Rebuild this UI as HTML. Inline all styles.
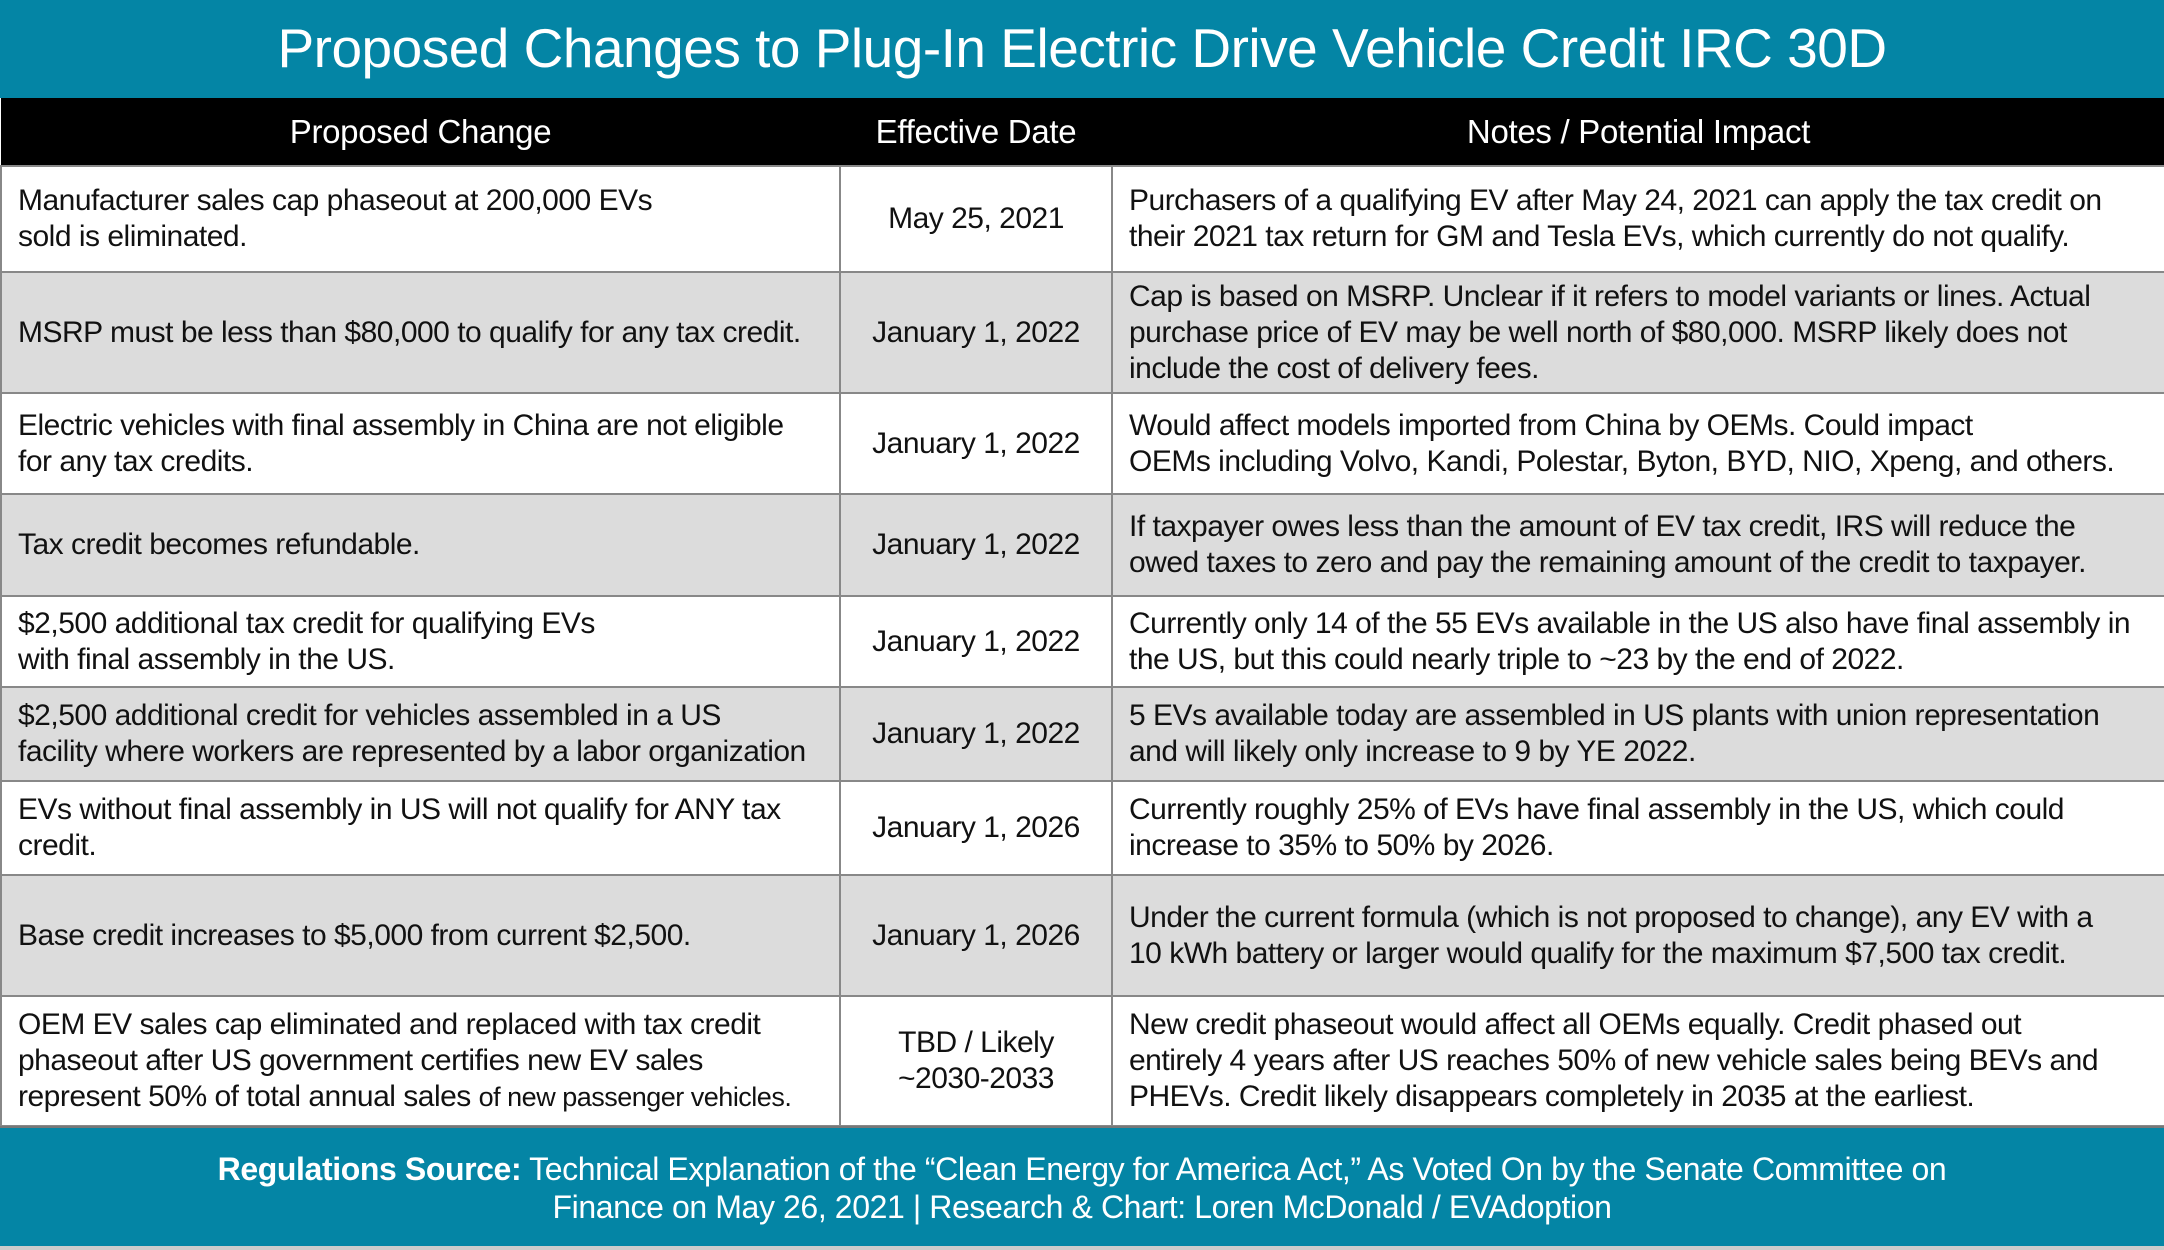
<!DOCTYPE html>
<html><head><meta charset="utf-8"><style>
*{margin:0;padding:0;box-sizing:border-box}
body{width:2164px;height:1250px;background:#fff;font-family:"Liberation Sans",sans-serif;overflow:hidden;position:relative}
.title{position:absolute;left:0;top:0;width:2164px;height:98px;background:#0485a5;color:#fff;font-size:55px;text-align:center;line-height:96px;letter-spacing:-0.5px}
table{position:absolute;left:0;top:98px;width:2164px;border-collapse:collapse;table-layout:fixed}
th{background:#000;color:#fff;font-weight:normal;font-size:33px;height:68px;letter-spacing:-0.3px}
td{font-size:30px;letter-spacing:-0.5px;line-height:36px;color:#111;border:2px solid #888;padding:0 16px;vertical-align:middle;white-space:nowrap;overflow:hidden}
td.c{text-align:center}
tr.g td{background:#dcdcdc}
.foot{position:absolute;left:0;top:1126px;width:2164px;height:120px;background:#0485a5;color:#fff;font-size:32px;text-align:center;line-height:38px;padding-top:22px;letter-spacing:-0.4px;border-top:2px solid #777}
.bot{position:absolute;left:0;top:1246px;width:2164px;height:4px;background:#ccc}
</style></head><body>
<div class="title">Proposed Changes to Plug-In Electric Drive Vehicle Credit IRC 30D</div>
<table>
<colgroup><col style="width:839px"><col style="width:272px"><col style="width:1053px"></colgroup>
<tr><th>Proposed Change</th><th>Effective Date</th><th>Notes / Potential Impact</th></tr>
<tr style="height:106px"><td>Manufacturer sales cap phaseout at 200,000 EVs<br>sold is eliminated.</td><td class="c">May 25, 2021</td><td>Purchasers of a qualifying EV after May 24, 2021 can apply the tax credit on<br>their 2021 tax return for GM and Tesla EVs, which currently do not qualify.</td></tr>
<tr class="g" style="height:121px"><td>MSRP must be less than $80,000 to qualify for any tax credit.</td><td class="c">January 1, 2022</td><td>Cap is based on MSRP. Unclear if it refers to model variants or lines. Actual<br>purchase price of EV may be well north of $80,000. MSRP likely does not<br>include the cost of delivery fees.</td></tr>
<tr style="height:101px"><td>Electric vehicles with final assembly in China are not eligible<br>for any tax credits.</td><td class="c">January 1, 2022</td><td>Would affect models imported from China by OEMs. Could impact<br>OEMs including Volvo, Kandi, Polestar, Byton, BYD, NIO, Xpeng, and others.</td></tr>
<tr class="g" style="height:102px"><td>Tax credit becomes refundable.</td><td class="c">January 1, 2022</td><td>If taxpayer owes less than the amount of EV tax credit, IRS will reduce the<br>owed taxes to zero and pay the remaining amount of the credit to taxpayer.</td></tr>
<tr style="height:91px"><td>$2,500 additional tax credit for qualifying EVs<br>with final assembly in the US.</td><td class="c">January 1, 2022</td><td>Currently only 14 of the 55 EVs available in the US also have final assembly in<br>the US, but this could nearly triple to ~23 by the end of 2022.</td></tr>
<tr class="g" style="height:94px"><td>$2,500 additional credit for vehicles assembled in a US<br>facility where workers are represented by a labor organization</td><td class="c">January 1, 2022</td><td>5 EVs available today are assembled in US plants with union representation<br>and will likely only increase to 9 by YE 2022.</td></tr>
<tr style="height:94px"><td>EVs without final assembly in US will not qualify for ANY tax<br>credit.</td><td class="c">January 1, 2026</td><td>Currently roughly 25% of EVs have final assembly in the US, which could<br>increase to 35% to 50% by 2026.</td></tr>
<tr class="g" style="height:121px"><td>Base credit increases to $5,000 from current $2,500.</td><td class="c">January 1, 2026</td><td>Under the current formula (which is not proposed to change), any EV with a<br>10 kWh battery or larger would qualify for the maximum $7,500 tax credit.</td></tr>
<tr style="height:130px"><td>OEM EV sales cap eliminated and replaced with tax credit<br>phaseout after US government certifies new EV sales<br>represent 50% of total annual sales <span style="font-size:27px">of new passenger vehicles.</span></td><td class="c">TBD / Likely<br>~2030-2033</td><td>New credit phaseout would affect all OEMs equally. Credit phased out<br>entirely 4 years after US reaches 50% of new vehicle sales being BEVs and<br>PHEVs. Credit likely disappears completely in 2035 at the earliest.</td></tr>
</table>
<div class="foot"><b>Regulations Source:</b> Technical Explanation of the “Clean Energy for America Act,” As Voted On by the Senate Committee on<br>Finance on May 26, 2021 | Research &amp; Chart: Loren McDonald / EVAdoption</div>
<div class="bot"></div>
</body></html>
